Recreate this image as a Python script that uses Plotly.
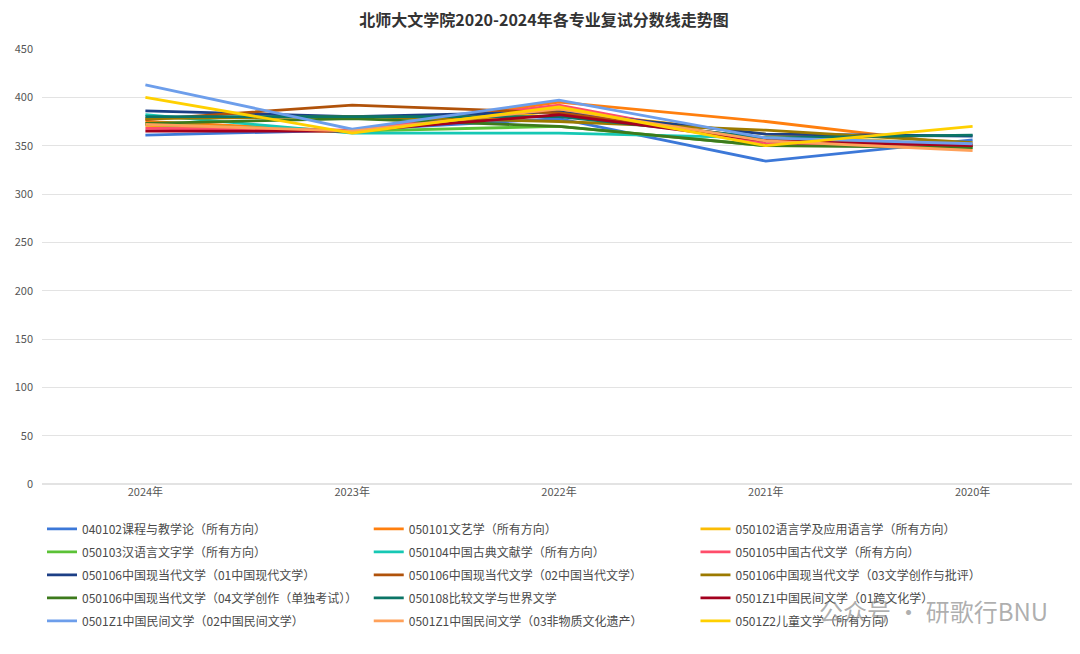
import plotly.graph_objects as go

years = ["2024年", "2023年", "2022年", "2021年", "2020年"]

names = [
    "040102课程与教学论（所有方向）",
    "050101文艺学（所有方向）",
    "050102语言学及应用语言学（所有方向）",
    "050103汉语言文字学（所有方向）",
    "050104中国古典文献学（所有方向）",
    "050105中国古代文学（所有方向）",
    "050106中国现当代文学（01中国现代文学）",
    "050106中国现当代文学（02中国当代文学）",
    "050106中国现当代文学（03文学创作与批评）",
    "050106中国现当代文学（04文学创作（单独考试））",
    "050108比较文学与世界文学",
    "0501Z1中国民间文学（01跨文化学）",
    "0501Z1中国民间文学（02中国民间文学）",
    "0501Z1中国民间文学（03非物质文化遗产）",
    "0501Z2儿童文学（所有方向）",
]

s040102 = [361, 366, 378, 334, 356]
s050101 = [375, 365, 395, 375, 350]
s050102 = [371, 364, 386, 362, 350]
s050103 = [372, 365, 370, 350, 350]
s050104 = [382, 363, 363, 358, 348]
s050105 = [368, 366, 392, 352, 350]
s050106_01 = [386, 380, 385, 362, 360]
s050106_02 = [377, 392, 384, 357, 350]
s050106_03 = [378, 380, 375, 366, 353]
s050106_04 = [373, 378, 370, 350, 348]
s050108 = [380, 380, 380, 358, 361]
s0501Z1_01 = [365, 365, 382, 355, 350]
s0501Z1_02 = [413, 367, 397, 358, 352]
s0501Z1_03 = [372, 365, 388, 355, 345]
s0501Z2 = [400, 363, 390, 350, 370]

series = [s040102, s050101, s050102, s050103, s050104, s050105, s050106_01,
          s050106_02, s050106_03, s050106_04, s050108, s0501Z1_01, s0501Z1_02,
          s0501Z1_03, s0501Z2]

colors = ["#3c78d8", "#ff7f0e", "#fbbc04", "#5bc236", "#16c8b4", "#ff4d6a",
          "#1c3f86", "#b0520a", "#9c7a00", "#3d7a1c", "#0b7566", "#a3001e",
          "#6d9eeb", "#ffa15a", "#ffd000"]

legend_ids = ["legend", "legend2", "legend3"]

fig = go.Figure()
for i, (n, s, c) in enumerate(zip(names, series, colors)):
    fig.add_trace(go.Scatter(x=years, y=s, name=n, mode="lines",
                             legend=legend_ids[i % 3], legendgroup=n,
                             line=dict(color=c, width=2.8)))

FONT = "Noto Sans CJK SC"
leg_common = dict(orientation="v", yanchor="top", y=-0.07, xanchor="left",
                  font=dict(size=12, color="#4a4a4a", family=FONT),
                  tracegroupgap=4, itemwidth=30, bgcolor="rgba(0,0,0,0)")

fig.update_layout(
    width=1072, height=646,
    paper_bgcolor="white", plot_bgcolor="white",
    font=dict(family=FONT, color="#555", size=11),
    title=dict(text="<b>北师大文学院2020-2024年各专业复试分数线走势图</b>",
               x=0.5, xanchor="center", y=0.981, yanchor="middle",
               font=dict(size=16, color="#333", family=FONT)),
    margin=dict(l=34, r=4, t=41, b=170, autoexpand=False),
    xaxis=dict(type="category", range=[-0.5, 4.5], showgrid=False,
               showline=False, ticks="", tickfont=dict(size=11, color="#555")),
    yaxis=dict(range=[0, 450], dtick=50, showgrid=True, gridcolor="#e3e3e3",
               gridwidth=1, zeroline=True, zerolinecolor="#e3e3e3",
               tickfont=dict(size=11, color="#555"), ticklabelstandoff=8),
    legend=dict(x=0.0, **leg_common),
    legend2=dict(x=0.316, **leg_common),
    legend3=dict(x=0.632, **leg_common),
    showlegend=True,
)

fig.add_annotation(text="公众号 · 研歌行BNU", xref="paper", yref="paper",
                   x=0.975, y=-0.29, xanchor="right", yanchor="middle",
                   showarrow=False,
                   font=dict(size=24, color="rgba(140,140,140,0.7)", family=FONT))

fig.write_html("out.html")
